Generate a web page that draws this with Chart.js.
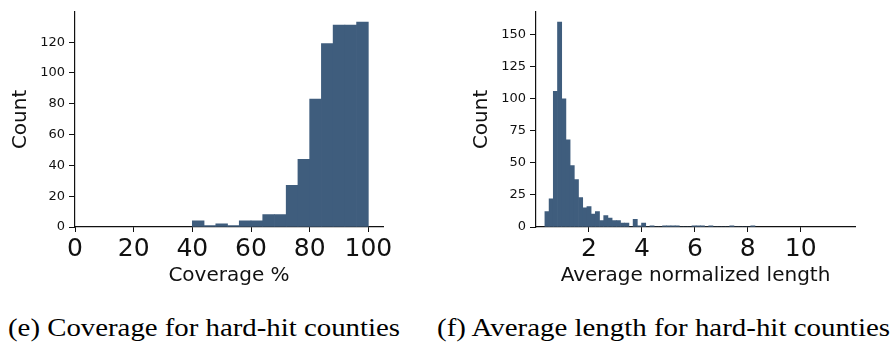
<!DOCTYPE html>
<html>
<head>
<meta charset="utf-8">
<script src="https://cdn.jsdelivr.net/npm/chart.js@4.4.1/dist/chart.umd.min.js"></script>
<style>
    html, body { margin: 0; padding: 0; background: #fff; }
    body { width: 896px; height: 347px; position: relative; overflow: hidden; }
    canvas { position: absolute; top: 0; }
    #coverage-chart { left: 0; }
    #length-chart { left: 456px; }
    .caption {
        position: absolute; top: 314px; white-space: nowrap;
        font-family: "Liberation Serif", serif; font-size: 25px; color: #000;
        transform-origin: 0 0;
    }
</style>
</head>
<body>
<canvas id="coverage-chart" width="400" height="300"></canvas>
<canvas id="length-chart" width="420" height="300"></canvas>
<div class="caption" id="cap-e" data-width="392" style="left:8px">(e) Coverage for hard-hit counties</div>
<div class="caption" id="cap-f" data-width="453" style="left:437px">(f) Average length for hard-hit counties</div>

<script>
// (e) coverage histogram: 15 bins of width 4 from 40 to 100
const coverageBinStart = 40;
const coverageBinWidth = 4;
const coverageCounts = [4, 1, 2, 1, 4, 4, 8, 8, 27, 44, 83, 119, 131, 131, 133];
const coverageXTicks = [0, 20, 40, 60, 80, 100];
const coverageYTicks = [0, 20, 40, 60, 80, 100, 120];

// (f) average normalized length histogram
const lengthBinStart = 0.336;
const lengthBinWidth = 0.1587;
const lengthCounts = [
    12, 22, 106, 160, 100, 68, 48, 37, 23, 15,
    16, 10, 12, 5, 9, 7, 5, 5, 3, 3,
    0, 6, 1, 3, 0, 1, 0, 0, 1, 1,
    1, 1, 0, 0, 0, 1, 1, 1, 0, 1,
    0, 0, 0, 0, 1, 0, 0, 0, 0, 1
];
const lengthXTicks = [2, 4, 6, 8, 10];
const lengthYTicks = [0, 25, 50, 75, 100, 125, 150];

const BAR_COLOR = "#3F5D7D";
const INK = "#111";

function binPoints(start, width, counts) {
    return counts.map((c, i) => ({ x: start + width * (i + 0.5), y: c }));
}

function createHistogram(canvasId, cfg) {
    const el = document.getElementById(canvasId);
    if (!el) return;
    return new Chart(el, {
        type: "bar",
        data: {
            datasets: [{
                data: binPoints(cfg.binStart, cfg.binWidth, cfg.counts),
                backgroundColor: BAR_COLOR,
                borderWidth: 0,
                categoryPercentage: 1.0,
                barPercentage: 1.0
            }]
        },
        options: {
            responsive: false,
            animation: false,
            layout: { padding: { top: 9, right: cfg.padRight, bottom: 0, left: 0 } },
            plugins: { legend: { display: false }, tooltip: { enabled: false } },
            scales: {
                x: {
                    type: "linear",
                    min: cfg.xMin,
                    max: cfg.xMax,
                    offset: false,
                    afterFit: s => { s.height = 73; },
                    afterBuildTicks: s => { s.ticks = cfg.xTicks.map(v => ({ value: v })); },
                    grid: { offset: false, drawOnChartArea: false, drawTicks: true, tickLength: 5, tickColor: INK },
                    border: { display: true, color: INK, width: 1.2 },
                    ticks: {
                        color: INK, padding: 2, maxRotation: 0, autoSkip: false,
                        font: { family: "DejaVu Sans", size: 25 }
                    },
                    title: {
                        display: true, text: cfg.xTitle, color: INK,
                        font: { family: "DejaVu Sans", size: 20 },
                        padding: { top: 0, bottom: 12 }
                    }
                },
                y: {
                    min: 0,
                    max: cfg.yMax,
                    afterFit: s => { s.width = cfg.yWidth; },
                    afterBuildTicks: s => { s.ticks = cfg.yTicks.map(v => ({ value: v })); },
                    grid: { drawOnChartArea: false, drawTicks: true, tickLength: 6, tickColor: INK },
                    border: { display: true, color: INK, width: 1.2 },
                    ticks: {
                        color: INK, padding: 4,
                        font: { family: "DejaVu Sans", size: 13 }
                    },
                    title: {
                        display: true, text: "Count", color: INK,
                        font: { family: "DejaVu Sans", size: 20 },
                        padding: { top: cfg.yTitlePad, bottom: 0 }
                    }
                }
            }
        }
    });
}

createHistogram("coverage-chart", {
    binStart: coverageBinStart, binWidth: coverageBinWidth, counts: coverageCounts,
    xMin: 0, xMax: 105, xTicks: coverageXTicks, xTitle: "Coverage %",
    yMax: 139.7, yTicks: coverageYTicks, yWidth: 75, yTitlePad: 9, padRight: 17
});

createHistogram("length-chart", {
    binStart: lengthBinStart, binWidth: lengthBinWidth, counts: lengthCounts,
    xMin: 0, xMax: 12.05, xTicks: lengthXTicks, xTitle: "Average normalized length",
    yMax: 168, yTicks: lengthYTicks, yWidth: 80, yTitlePad: 14, padRight: 21
});

// squeeze captions to the width of the original serif captions
document.querySelectorAll(".caption").forEach(cap => {
    const target = parseFloat(cap.dataset.width);
    const w = cap.getBoundingClientRect().width;
    if (w > 0) cap.style.transform = `scaleX(${target / w})`;
});
</script>
</body>
</html>
